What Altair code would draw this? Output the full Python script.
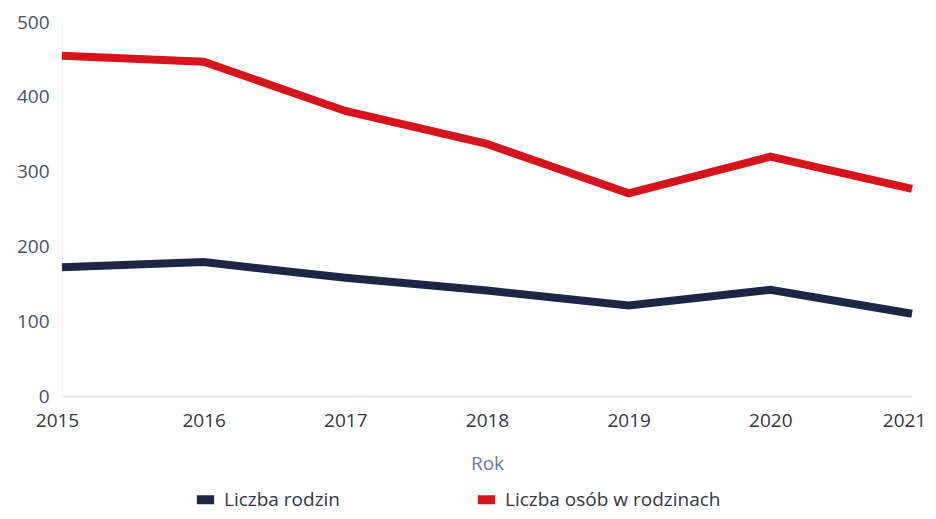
import altair as alt
import pandas as pd

years = [2015, 2016, 2017, 2018, 2019, 2020, 2021]
liczba_rodzin = [172, 179, 158, 141, 121, 142, 110]
liczba_osob = [455, 447, 381, 337, 271, 320, 277]
series_names = ["Liczba rodzin", "Liczba osób w rodzinach"]
colors = ["#1b2745", "#d4161c"]

rows = []
for y, a, b in zip(years, liczba_rodzin, liczba_osob):
    rows.append({"Rok": y, "Seria": series_names[0], "Wartość": a})
    rows.append({"Rok": y, "Seria": series_names[1], "Wartość": b})
df = pd.DataFrame(rows)

font = "Open Sans"

x_label_offset = {
    "condition": [
        {"test": "datum.value == 2015", "value": -5},
        {"test": "datum.value == 2021", "value": -8},
    ],
    "value": 0,
}

chart = alt.Chart(df).mark_line(strokeWidth=8, strokeJoin="miter", strokeCap="butt").encode(
    x=alt.X("Rok:O", scale=alt.Scale(type="point", padding=0),
            axis=alt.Axis(title="Rok", labelAngle=0, labelFontSize=19, labelColor="#33373f",
                          labelFont=font, labelPadding=15, ticks=False, domain=True,
                          domainColor="#eeeeee", domainWidth=2, labelOffset=x_label_offset,
                          titleFont=font, titleFontSize=19, titleFontWeight="normal",
                          titleColor="#6b78b0", titlePadding=24, grid=False)),
    y=alt.Y("Wartość:Q", scale=alt.Scale(domain=[0, 500], nice=False),
            axis=alt.Axis(title=None, values=[0, 100, 200, 300, 400, 500], labelFontSize=19,
                          labelColor="#4a5262", labelFont=font, labelPadding=13, ticks=False,
                          domain=True, domainColor="#f2f2f2", grid=False)),
    color=alt.Color("Seria:N", sort=series_names,
                    scale=alt.Scale(domain=series_names, range=colors),
                    legend=alt.Legend(title=None, orient="none", direction="horizontal",
                                      legendX=130, legendY=464, symbolType="M-1,0H1",
                                      symbolSize=300, symbolStrokeWidth=9, labelLimit=500,
                                      labelFontSize=19, labelFont=font, labelColor="#33373f",
                                      columnPadding=118, labelOffset=5)),
).properties(
    width=850, height=374,
    background="white",
    autosize=alt.AutoSizeParams(type="none"),
    padding={"left": 54, "top": 14, "right": 16, "bottom": 115},
).configure_view(strokeWidth=0)

chart.save("out.html", embed_options={"renderer": "svg", "actions": False})
